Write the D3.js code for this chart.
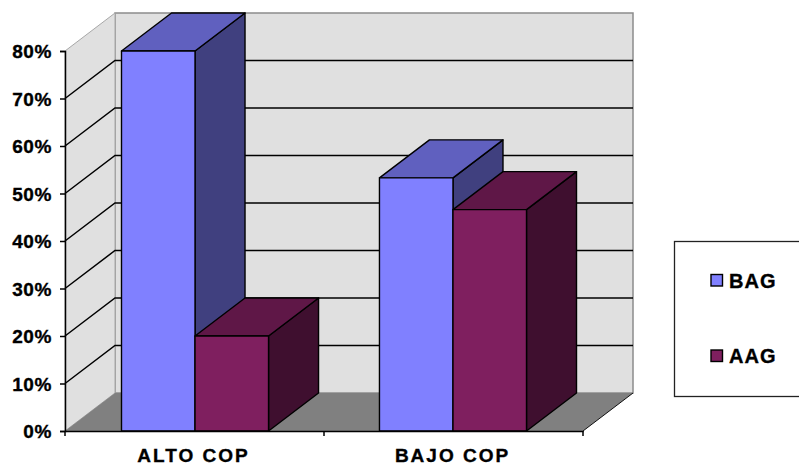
<!DOCTYPE html>
<html>
<head>
<meta charset="utf-8">
<script src="https://cdn.jsdelivr.net/npm/d3@7/dist/d3.min.js"></script>
<style>
html,body{margin:0;padding:0;background:#fff;overflow:hidden}
svg{display:block}
text{font-family:"Liberation Sans",Arial,sans-serif;font-weight:bold;fill:#000;stroke:#000;stroke-width:0.35px}
</style>
</head>
<body>
<svg id="chart" width="799" height="466"></svg>
<script>
const categories = ["ALTO COP", "BAJO COP"];
const seriesNames = ["BAG", "AAG"];
const bagValues = [80, 53.3];
const aagValues = [20, 46.6];
const yTicks = [0, 10, 20, 30, 40, 50, 60, 70, 80];
const frontColors = ["#8080ff", "#7f1f5f"];
const topColors = ["#6060bf", "#5f1747"];
const sideColors = ["#40407f", "#3f0f2f"];

const svg = d3.select("#chart");
const depthX = 50, depthY = 38;
const x0 = 65, x1 = 583, yBase = 431, yTop = 51;

const x = d3.scaleBand().domain(categories).range([x0, x1]).paddingInner(0.43).paddingOuter(0.219);
const xAxisScale = d3.scaleBand().domain(categories).range([x0, x1]);
const xSeries = d3.scaleBand().domain(seriesNames).range([0, x.bandwidth()]);
const y = d3.scaleLinear().domain([0, 80]).range([yBase, yTop]);

const pts = p => p.map(d => d.join(",")).join(" ");

// Back wall, side wall and floor of the 3D box
svg.append("polygon")
  .attr("points", pts([[x0 + depthX, yTop - depthY], [x1 + depthX, yTop - depthY], [x1 + depthX, yBase - depthY], [x0 + depthX, yBase - depthY]]))
  .attr("fill", "#e0e0e0").attr("stroke", "#8c8c8c").attr("stroke-width", 1.5);
svg.append("polygon")
  .attr("points", pts([[x0, yTop], [x0 + depthX, yTop - depthY], [x0 + depthX, yBase - depthY], [x0, yBase]]))
  .attr("fill", "#e0e0e0").attr("stroke", "#a8a8a8").attr("stroke-width", 1);
svg.append("polygon")
  .attr("points", pts([[x0, yBase], [x0 + depthX, yBase - depthY], [x1 + depthX, yBase - depthY], [x1, yBase]]))
  .attr("fill", "#808080");

// Gridlines wrapping from the side wall onto the back wall
const gridTicks = yTicks.filter(d => d > 0 && d < 80);
svg.append("g").selectAll("polyline").data(gridTicks).join("polyline")
  .attr("points", d => pts([[x0, y(d)], [x0 + depthX, y(d) - depthY], [x1 + depthX, y(d) - depthY]]))
  .attr("fill", "none").attr("stroke", "#000").attr("stroke-width", 1.5);

// Right-hand floor edge
svg.append("line")
  .attr("x1", x1).attr("y1", yBase).attr("x2", x1 + depthX).attr("y2", yBase - depthY)
  .attr("stroke", "#111").attr("stroke-width", 1);

// Bars, each built from a side, top and front face
const barStroke = { stroke: "#000", "stroke-width": 1.4, "stroke-linejoin": "round" };
categories.forEach((cat, i) => {
  [bagValues[i], aagValues[i]].forEach((v, s) => {
    const left = x(cat) + xSeries(seriesNames[s]);
    const right = left + xSeries.bandwidth();
    const top = y(v), base = y(0);
    const g = svg.append("g");
    const face = (points, fill) => {
      const el = g.append("polygon").attr("points", pts(points)).attr("fill", fill);
      Object.entries(barStroke).forEach(([k, val]) => el.attr(k, val));
    };
    face([[right, top], [right + depthX, top - depthY], [right + depthX, base - depthY], [right, base]], sideColors[s]);
    face([[left, top], [left + depthX, top - depthY], [right + depthX, top - depthY], [right, top]], topColors[s]);
    face([[left, top], [right, top], [right, base], [left, base]], frontColors[s]);
  });
});

// Value axis
const yAxis = d3.axisLeft(y).tickValues(yTicks).tickFormat(d => d + "%").tickSize(5).tickPadding(8);
const yG = svg.append("g").attr("transform", `translate(${x0},0)`).call(yAxis);
yG.selectAll("path,line").attr("stroke", "#000").attr("stroke-width", 1.5);
yG.selectAll("text").attr("font-size", 19).attr("font-family", null).attr("fill", null)
  .attr("y", 0.5).style("letter-spacing", "0.6px");

// Category axis, with ticks between the groups
const xAxis = d3.axisBottom(xAxisScale).tickSize(0).tickPadding(18);
const xG = svg.append("g").attr("transform", `translate(0,${yBase})`).call(xAxis);
xG.selectAll("path").attr("stroke", "#000").attr("stroke-width", 1.5);
xG.selectAll("text").attr("font-size", 19).attr("font-family", null).attr("fill", null)
  .attr("x", -1).style("letter-spacing", "2px");
xG.selectAll("line.sep").data([x0, (x0 + x1) / 2, x1]).join("line").attr("class", "sep")
  .attr("x1", d => d).attr("x2", d => d).attr("y1", 0).attr("y2", 5)
  .attr("stroke", "#000").attr("stroke-width", 1.5);

// Legend box, running off the right of the canvas
const legend = svg.append("g");
legend.append("rect").attr("x", 674.5).attr("y", 241.5).attr("width", 130).attr("height", 155)
  .attr("fill", "#fff").attr("stroke", "#222").attr("stroke-width", 1.3);
const legendY = d3.scalePoint().domain(seriesNames).range([280.5, 356]);
const items = legend.selectAll("g").data(seriesNames).join("g")
  .attr("transform", d => `translate(0,${legendY(d)})`);
items.append("rect").attr("x", 711).attr("y", -6).attr("width", 11.5).attr("height", 11.5)
  .attr("fill", (d, i) => frontColors[i]).attr("stroke", "#000").attr("stroke-width", 1.4);
items.append("text").attr("x", 729).attr("y", 7).attr("font-size", 20).style("letter-spacing", "1px").text(d => d);
</script>
</body>
</html>
